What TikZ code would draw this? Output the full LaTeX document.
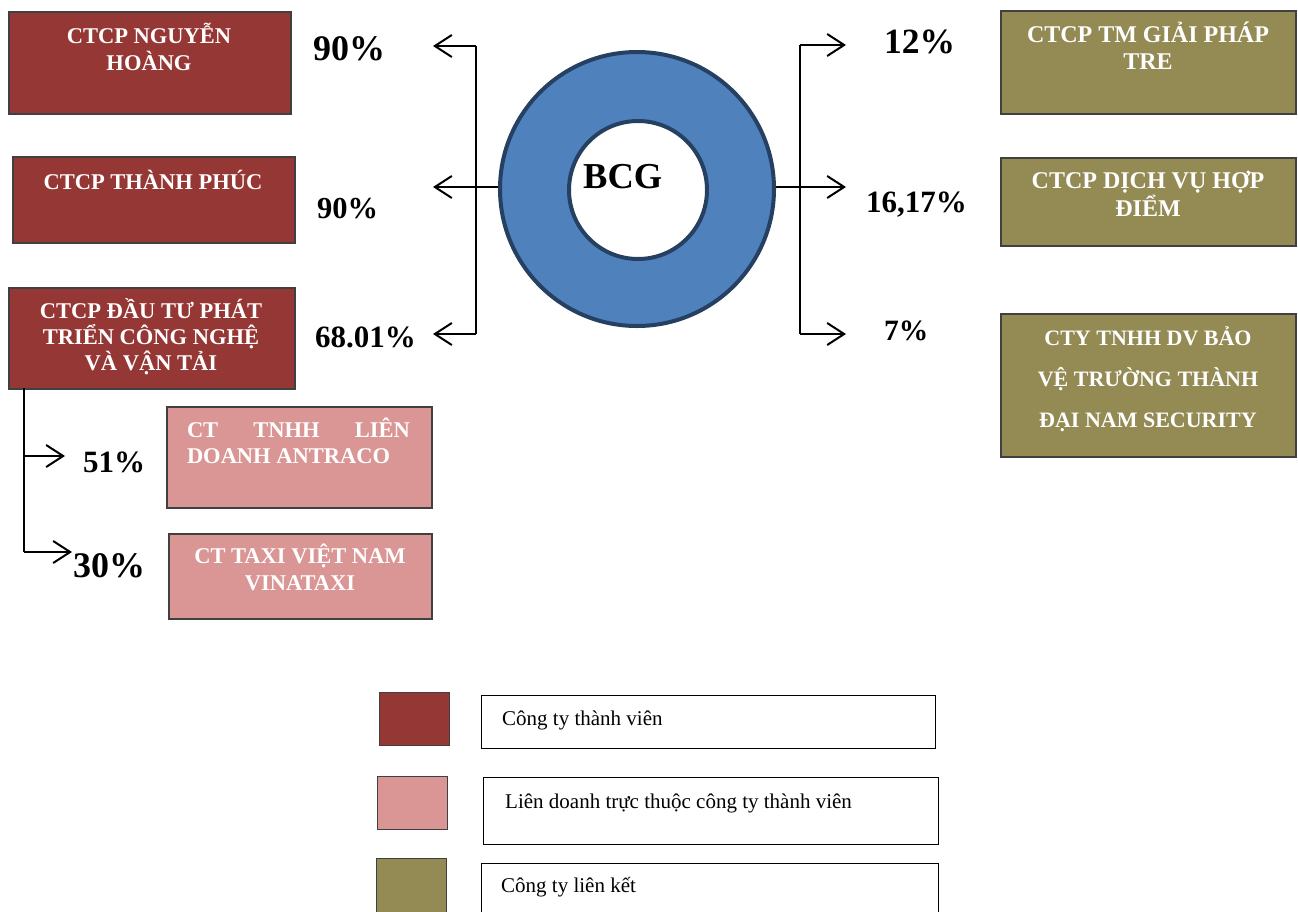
\documentclass[tikz,border=0pt]{standalone}
\usepackage{fontspec}
\setmainfont{Liberation Serif}
\usetikzlibrary{arrows.meta}

\definecolor{memred}{RGB}{149,55,53}
\definecolor{jvpink}{RGB}{217,150,148}
\definecolor{assocolive}{RGB}{148,138,84}
\definecolor{ringblue}{RGB}{79,129,189}
\definecolor{ringedge}{RGB}{38,64,98}
\definecolor{boxedge}{RGB}{64,64,64}

\tikzset{
    company/.style={draw=boxedge, line width=1.5pt, anchor=north west, inner sep=0pt},
    member/.style={company, fill=memred},
    jv/.style={company, fill=jvpink},
    assoc/.style={company, fill=assocolive},
    boxtxt/.style 2 args={anchor=base, inner sep=0pt, text=white, font=\bfseries\fontsize{#1}{#2}\selectfont},
    pct/.style={anchor=base west, inner sep=0pt, font=\bfseries\fontsize{#1}{#1}\selectfont},
    pct/.default=31,
    arr/.style={-{Straight Barb[length=17pt,width=22pt]}, line width=2pt},
    keybox/.style={draw=black, line width=1pt, anchor=north west, inner sep=0pt},
    keytxt/.style={anchor=base west, inner sep=0pt, font=\fontsize{21}{21}\selectfont}
}

\begin{document}
\begin{tikzpicture}[x=1pt,y=-1pt]
    \useasboundingbox (0,0) rectangle (1298,911);
    %member companies
    \node[member, minimum width=282pt, minimum height=102pt] (nh) at (8,11) {};
    \node[member, minimum width=282pt, minimum height=86pt] (tp) at (12,156) {};
    \node[member, minimum width=286pt, minimum height=101pt] (dt) at (8,287) {};
    \node[boxtxt={22.5}{27}] (nhtxt) at (149,43) {\parbox[t]{270pt}{\centering CTCP NGUYỄN\\HOÀNG}};
    \node[boxtxt={22.5}{27}] (tptxt) at (153,189) {\parbox[t]{270pt}{\centering CTCP THÀNH PHÚC}};
    \node[boxtxt={22.5}{26}] (dttxt) at (151,318) {\parbox[t]{270pt}{\centering CTCP ĐẦU TƯ PHÁT\\TRIỂN CÔNG NGHỆ\\VÀ VẬN TẢI}};
    %joint ventures
    \node[jv, minimum width=265pt, minimum height=101pt] (an) at (166,406) {};
    \node[jv, minimum width=263pt, minimum height=85pt] (vt) at (168,533) {};
    \node[boxtxt={22.5}{26}] (antxt) at (298.5,437) {\parbox[t]{223pt}{CT\hfill TNHH\hfill LIÊN\\DOANH ANTRACO}};
    \node[boxtxt={22.5}{27}] (vttxt) at (300,563) {\parbox[t]{250pt}{\centering CT TAXI VIỆT NAM\\VINATAXI}};
    %associates
    \node[assoc, minimum width=295pt, minimum height=103pt] (tre) at (1000,10) {};
    \node[assoc, minimum width=295pt, minimum height=88pt] (hd) at (1000,157) {};
    \node[assoc, minimum width=295pt, minimum height=143pt] (dn) at (1000,313) {};
    \node[boxtxt={24}{27}] (tretxt) at (1148,42) {\parbox[t]{285pt}{\centering CTCP TM GIẢI PHÁP\\TRE}};
    \node[boxtxt={24}{28}] (hdtxt) at (1148,188) {\parbox[t]{285pt}{\centering CTCP DỊCH VỤ HỢP\\ĐIỂM}};
    \node[boxtxt={22}{41}] (dntxt) at (1148,345) {\parbox[t]{285pt}{\centering CTY TNHH DV BẢO\\VỆ TRƯỜNG THÀNH\\ĐẠI NAM SECURITY}};
    %BCG
    \node[circle, fill=ringblue, draw=ringedge, line width=4pt, minimum size=274pt, inner sep=0pt] (ring) at (637,189) {};
    \node[circle, fill=white, draw=ringedge, line width=4pt, minimum size=138pt, inner sep=0pt] (hole) at (638,190) {};
    \node[pct=36.5] (bcg) at (583,188) {BCG};
    %percentages
    \node[pct=36] (p1) at (313,60) {90\%};
    \node[pct=30.5] (p2) at (317,218) {90\%};
    \node[pct=31] (p3) at (315,347) {68.01\%};
    \node[pct=35.5] (p4) at (884,53) {12\%};
    \node[pct=31] (p5) at (866,212) {16,17\%};
    \node[pct=29.5] (p6) at (884,340) {7\%};
    \node[pct=31] (p7) at (83,472) {51\%};
    \node[pct=36] (p8) at (73,577) {30\%};
    %connectors
    \coordinate (lb1) at (476,46);
    \coordinate (lb3) at (476,334);
    \coordinate (lt1) at (433,46);
    \coordinate (lt2) at (433,187);
    \coordinate (lt3) at (433,334);
    \coordinate (rb1) at (800,45);
    \coordinate (rb3) at (800,334);
    \coordinate (rt1) at (846,45);
    \coordinate (rt2) at (846,187);
    \coordinate (rt3) at (846,334);
    \coordinate (sb0) at (24,388);
    \coordinate (sb1) at (24,456);
    \coordinate (sb2) at (24,552);
    \coordinate (st1) at (65,456);
    \coordinate (st2) at (72,552);
    \draw[line width=2pt] (lb1) -- (lb3);
    \draw[arr] (lb1) -- (lt1);
    \draw[arr] (ring.west |- lt2) -- (lt2);
    \draw[arr] (lb3) -- (lt3);
    \draw[line width=2pt] (rb1) -- (rb3);
    \draw[arr] (rb1) -- (rt1);
    \draw[arr] (ring.east |- rt2) -- (rt2);
    \draw[arr] (rb3) -- (rt3);
    \draw[line width=2pt] (sb0) -- (sb2);
    \draw[arr] (sb1) -- (st1);
    \draw[arr] (sb2) -- (st2);
    %legend
    \node[member, line width=1pt, minimum width=70pt, minimum height=53pt] (keym) at (379,692) {};
    \node[jv, line width=1pt, minimum width=70pt, minimum height=53pt] (keyj) at (377,776) {};
    \node[assoc, line width=1pt, minimum width=70pt, minimum height=56pt] (keya) at (376,858) {};
    \node[keybox, minimum width=454pt, minimum height=53pt] (keymbox) at (481,695) {};
    \node[keybox, minimum width=455pt, minimum height=67pt] (keyjbox) at (483,777) {};
    \node[keybox, minimum width=457pt, minimum height=60pt] (keyabox) at (481,863) {};
    \node[keytxt] (keymtxt) at (502,725) {Công ty thành viên};
    \node[keytxt] (keyjtxt) at (505,808) {Liên doanh trực thuộc công ty thành viên};
    \node[keytxt] (keyatxt) at (501,892) {Công ty liên kết};
\end{tikzpicture}
\end{document}
